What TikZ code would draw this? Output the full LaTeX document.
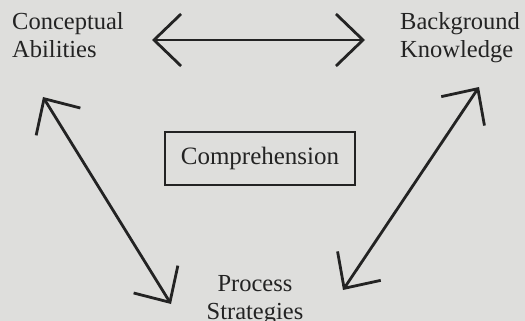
\documentclass[tikz,border=0pt]{standalone}
\usepackage{fontspec}
\setmainfont{Liberation Serif}
\usetikzlibrary{arrows.meta}
\definecolor{paper}{RGB}{222,222,220}
\definecolor{ink}{RGB}{35,35,35}
\tikzset{
  lbl/.style={inner sep=0pt, text=ink, font=\fontsize{24.5}{28}\selectfont},
  dblarrow/.style={draw=ink, line width=2.8pt, line cap=round, line join=miter,
    {Straight Barb[length=27pt, width=52pt, line width=2.8pt]}-{Straight Barb[length=27pt, width=52pt, line width=2.8pt]}},
  box/.style={draw=ink, line width=2.8pt, minimum width=190pt, minimum height=53pt, inner sep=0pt,
    text=ink, font=\fontsize{25}{28}\selectfont}
}
\begin{document}
\begin{tikzpicture}[x=1pt,y=-1pt]
  \fill[paper] (0,0) rectangle (525,321);
  \useasboundingbox (0,0) rectangle (525,321);
  % labels (anchored on last-line baseline)
  \node[lbl, align=left, anchor=base west] (ca) at (12,58) {Conceptual\\Abilities};
  \node[lbl, align=left, anchor=base west] (bk) at (400,58) {Background\\Knowledge};
  \node[lbl, align=center, anchor=base] (ps) at (255,319) {Process\\Strategies};
  \node[box] (comp) at (260,158.5) {Comprehension};
  % arrow end points
  \coordinate (caR) at (152,40);
  \coordinate (bkL) at (365,40);
  \coordinate (caB) at (43,97);
  \coordinate (psL) at (171,304);
  \coordinate (bkB) at (479,87);
  \coordinate (psR) at (343,290);
  \draw[dblarrow] (caR) -- (bkL);
  \draw[dblarrow] (caB) -- (psL);
  \draw[dblarrow] (bkB) -- (psR);
\end{tikzpicture}
\end{document}
